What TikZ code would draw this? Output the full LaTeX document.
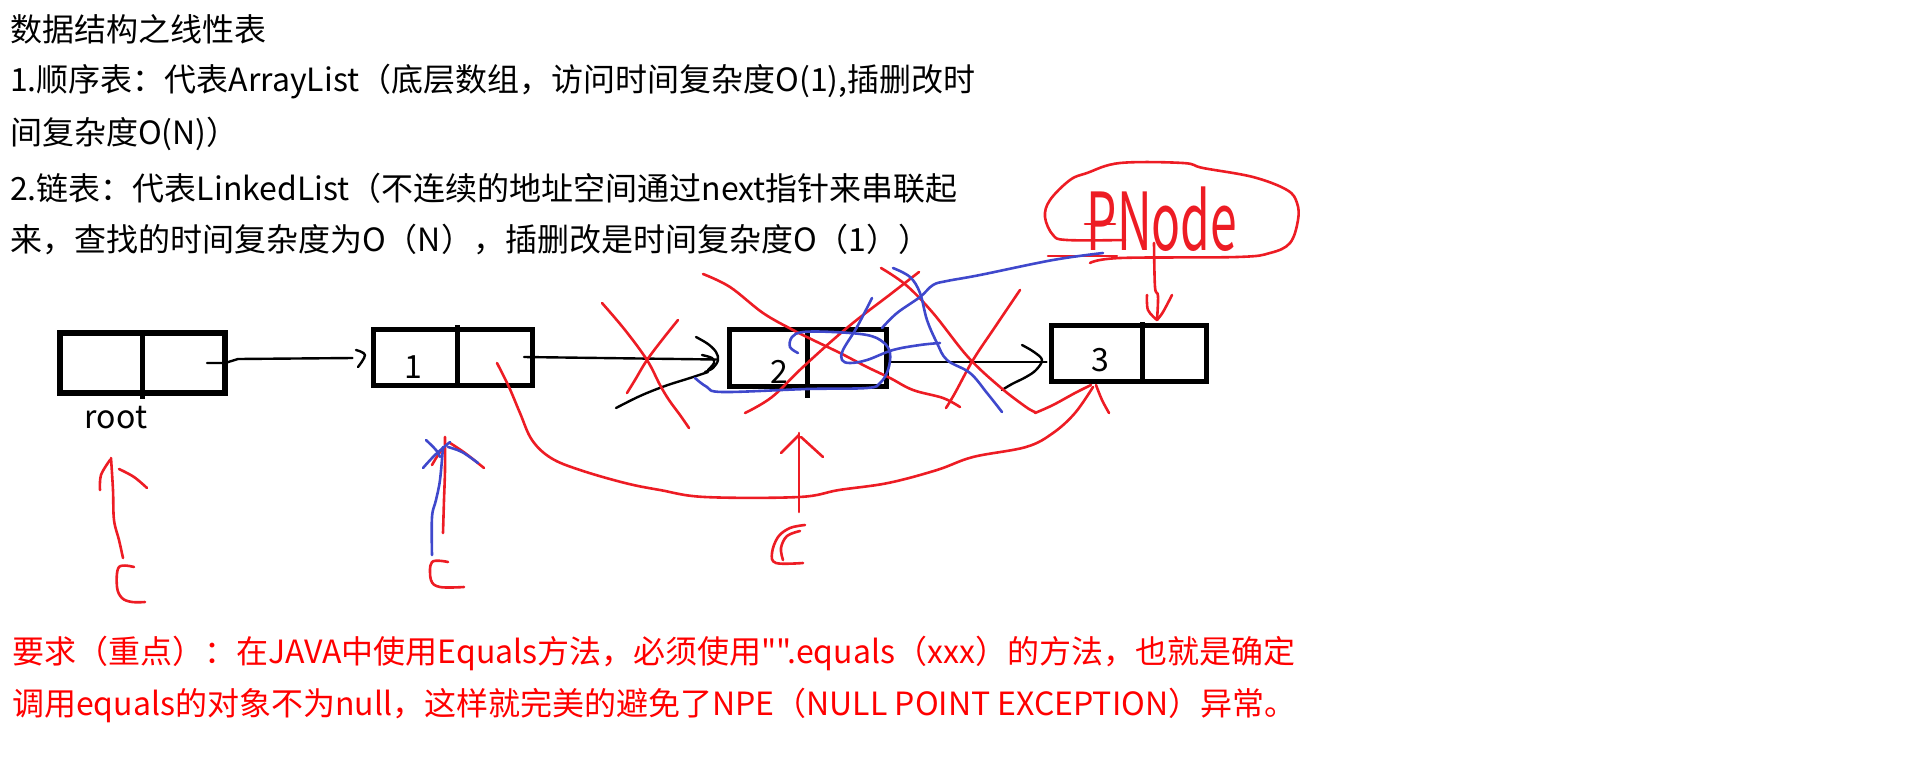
\documentclass[tikz,border=0pt]{standalone}
\usepackage{fontspec}
\newfontfamily\cjk{Noto Sans CJK SC}
\usetikzlibrary{calc}
\definecolor{pred}{HTML}{ED1C24}
\definecolor{pblue}{HTML}{3F48CC}
\definecolor{tred}{HTML}{FF0000}
\begin{document}
\begin{tikzpicture}[x=1pt,y=-1pt,
  box/.style={draw, line width=5.5pt, inner sep=0pt, outer sep=0pt},
  divider/.style={line width=5pt},
  txt/.style={anchor=west, inner sep=0pt, font=\cjk\fontsize{32pt}{40pt}\selectfont},
  num/.style={inner sep=0pt, font=\cjk\fontsize{32pt}{40pt}\selectfont},
  ptr/.style={line width=2.4pt, line cap=round, line join=round},
  rs/.style={pred, line width=2.6pt, line cap=round, line join=round},
  bs/.style={pblue, line width=2.6pt, line cap=round, line join=round},
  hand/.style={smooth, tension=0.6}
]
\useasboundingbox (0,0) rectangle (1914,756);

% ---------- texts ----------
\node[txt] (l1) at (10,29) {数据结构之线性表};
\node[txt] (l2) at (10,82) {1.顺序表：代表ArrayList（底层数组，访问时间复杂度O(1),插删改时};
\node[txt] (l3) at (10,134) {间复杂度O(N)）};
\node[txt] (l4) at (10,188) {2.链表：代表LinkedList（不连续的地址空间通过next指针来串联起};
\node[txt] (l5) at (10,240) {来，查找的时间复杂度为O（N），插删改是时间复杂度O（1））};
\node[txt, text=tred] (r1) at (12,653) {要求（重点）：在JAVA中使用Equals方法，必须使用"".equals（xxx）的方法，也就是确定};
\node[txt, text=tred] (r2) at (12,705) {调用equals的对象不为null，这样就完美的避免了NPE（NULL POINT EXCEPTION）异常。};

% ---------- boxes ----------
\node[box, minimum width=165pt, minimum height=60pt] (root) at (142.5,363) {};
\draw[divider] (142,333) -- (142,399);
\node[num] (rootlbl) at (116,418) {root};

\node[box, minimum width=159pt, minimum height=56pt] (b1) at (453,357.5) {};
\draw[divider] (457,325) -- (457,385);
\node[num] (n1) at (413,367) {1};

\node[box, minimum width=157pt, minimum height=57pt] (b2) at (808,358) {};
\draw[divider] (807,330) -- (807,398);
\node[num] (n2) at (779,372) {2};

\node[box, minimum width=155pt, minimum height=56pt] (b3) at (1129,353.5) {};
\draw[divider] (1142,322) -- (1142,382);
\node[num] (n3) at (1100,360) {3};

% ---------- black pointers ----------
\coordinate (rp) at (207,363);
\coordinate (p1) at (524,357);
\coordinate (p2) at (889,362);
\draw[ptr] (rp) -- (root.east |- rp) -- (238,359) -- ($(b1.west)+(-21,0.5)$);
\draw[ptr] plot[hand] coordinates {(356,350)(365,355)(358,367)};
\draw[ptr] (p1) -- ($(b2.west)+(-13,1.5)$);
\draw[ptr] plot[hand] coordinates {(696,337)(708,344)(716,352)(718,360)(713,368)(705,372)};
\draw[ptr] plot[hand] coordinates {(702,355)(712,358)(714,363)(708,370)};
\draw[ptr] plot[hand] coordinates {(616,408)(640,396)(665,386)(690,378)(708,372)};
\draw[ptr] (p2) -- ($(b3.west)+(-5,8.5)$);
\draw[ptr] plot[hand] coordinates {(1022,345)(1034,352)(1042,360)(1036,370)(1026,377)(1012,384)(1002,390)};

% ---------- red scribbles ----------
% X over arrow 1->2
\draw[rs] plot[hand] coordinates {(602,303)(625,330)(647,360)(660,385)(669,400)(680,415)(689,428)};
\draw[rs] plot[hand] coordinates {(678,320)(662,340)(647,360)(635,380)(627,393)};
% big crosses over box 2
\draw[rs] plot[hand] coordinates {(703,274)(730,287)(763,313)(793,330)(813,340)(840,353)(867,367)(890,378)(913,390)(943,398)(960,407)};
\draw[rs] plot[hand] coordinates {(745,413)(772,397)(803,367)(848,327)(892,293)(919,272)};
\draw[rs] plot[hand] coordinates {(881,268)(906,285)(933,313)(968,357)(1000,387)(1026,407)(1035,412)};
\draw[rs] plot[hand] coordinates {(1020,290)(995,327)(973,360)(955,393)(946,408)};
% curve from node 1 to node 3
\coordinate (c1) at (497,363);
\draw[rs] plot[hand] coordinates {(c1)(509,387)(520,413)(532,440)(551,458)(580,470)(625,483)(660,490)(705,497)(799,497)(839,490)(888,483)(937,470)(973,457)(1026,447)(1053,433)(1075,413)(1093,387)};
\draw[rs] plot[hand] coordinates {(1035,413)(1053,405)(1075,393)(1091,385)};
\draw[rs] plot[hand] coordinates {(1096,385)(1102,400)(1109,413)};
% arrow into node 2 from below
\draw[rs] (799,512) -- (799,433);
\draw[rs] (781,453) -- (799,435);
\draw[rs] (801,437) -- (823,457);
\draw[rs] plot[hand] coordinates {(805,525)(790,528)(778,537)(772,553)(776,563)(803,563)};
\draw[rs] plot[hand] coordinates {(800,531)(787,536)(781,548)(783,560)};
% root arrow and C
\draw[rs] plot[hand] coordinates {(123,558)(119,540)(114,520)(113,490)(111,458)};
\draw[rs] plot[hand] coordinates {(100,490)(101,475)(110,460)};
\draw[rs] plot[hand] coordinates {(119,469)(134,477)(147,488)};
\draw[rs] plot[hand] coordinates {(134,567)(119,567)(117,587)(122,598)(132,602)(145,602)};
% node 1 arrow and C
\draw[rs] plot[hand] coordinates {(443,533)(444,500)(445,470)(445,437)};
\draw[rs] plot[hand] coordinates {(432,465)(438,455)(444,447)};
\draw[rs] plot[hand] coordinates {(450,443)(465,453)(484,468)};
\draw[rs] plot[hand] coordinates {(448,562)(432,562)(431,580)(440,587)(464,587)};
% PNode oval
\draw[rs] plot[hand] coordinates {(1090,263)(1120,258)(1237,257)(1270,253)(1290,243)(1298,220)(1297,203)(1287,190)(1253,177)(1203,168)(1183,163)(1120,163)(1087,173)(1070,180)(1050,200)(1045,217)(1053,235)(1067,240)(1125,240)};
\draw[rs] (1048,256) -- (1117,256);
\node[anchor=base, inner sep=0pt, text=pred, font=\cjk\fontsize{80pt}{80pt}\selectfont] (pnode) at (1162,250) {\scalebox{0.6}[1]{PNode}};
\draw[rs] (1085,224) -- (1115,224);
\draw[rs] plot[hand] coordinates {(1154,243)(1155,287)(1158,296)(1157,320)};
\draw[rs] plot[hand] coordinates {(1147,295)(1148,310)(1157,320)};
\draw[rs] plot[hand] coordinates {(1172,295)(1163,312)(1157,320)};

% ---------- blue scribbles ----------
\draw[bs] plot[hand] coordinates {(798,353)(790,347)(792,337)(803,332)(833,332)(867,335)(883,342)(890,353)(888,370)(880,383)(867,388)(807,389)(723,392)(707,387)(695,378)};
\draw[bs] plot[hand] coordinates {(872,298)(857,327)(843,350)(842,360)(850,363)(867,360)(893,350)(920,345)(940,343)};
\draw[bs] plot[hand] coordinates {(893,268)(910,277)(920,293)(927,320)(937,343)(947,360)(970,373)(987,393)(1002,412)};
\draw[bs] plot[hand] coordinates {(882,328)(897,313)(920,297)(933,285)(947,281)(980,275)(1053,260)(1103,253)};
\draw[bs] plot[hand] coordinates {(432,555)(432,517)(436,500)(440,480)(443,447)};
\draw[bs] plot[hand] coordinates {(426,440)(436,450)(440,457)};
\draw[bs] plot[hand] coordinates {(423,468)(435,455)(450,442)};
\draw[bs] plot[hand] coordinates {(448,447)(462,452)(478,463)};
\end{tikzpicture}
\end{document}
